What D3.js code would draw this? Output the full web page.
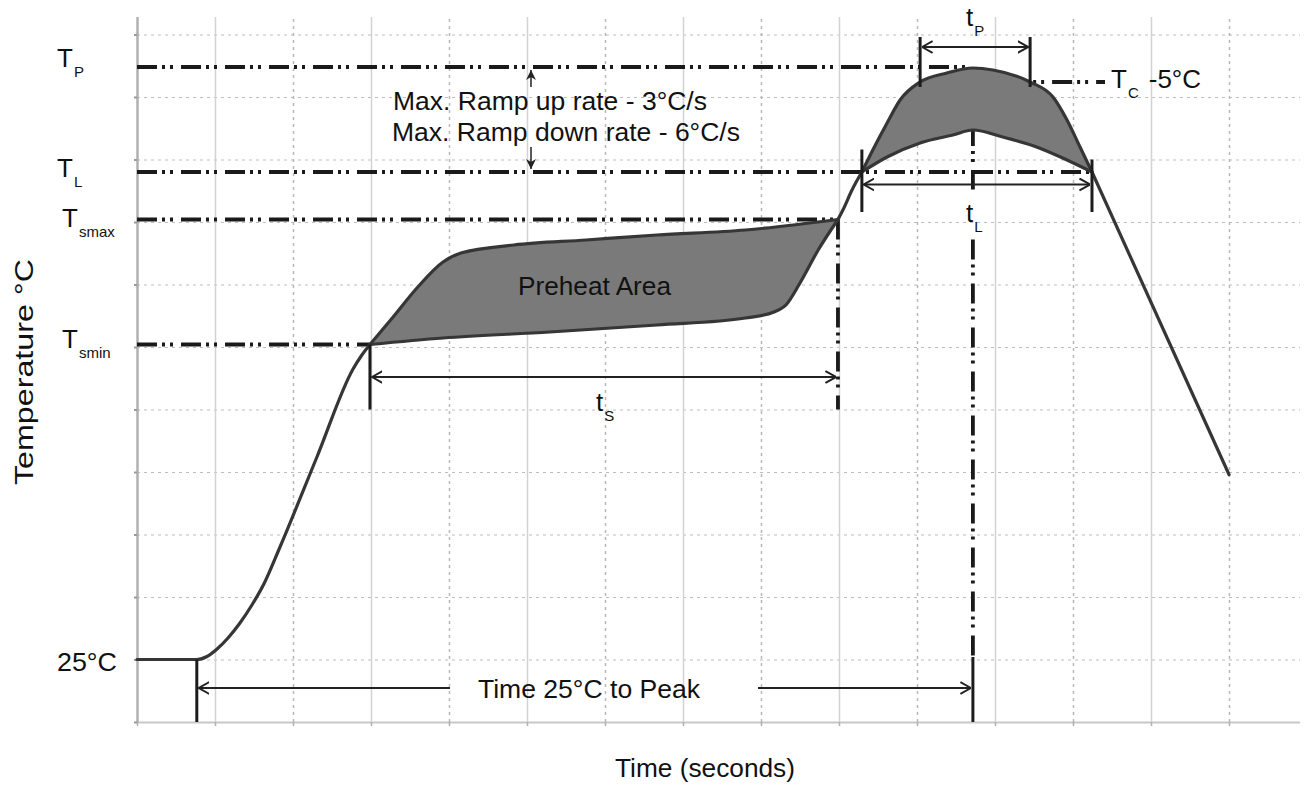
<!DOCTYPE html>
<html>
<head>
<meta charset="utf-8">
<script src="https://cdn.jsdelivr.net/npm/d3@7"></script>
<style>
body { margin: 0; background: #fff; }
text { font-family: "Liberation Sans", Arial, sans-serif; fill: #111; }
</style>
</head>
<body>
<script>
// schematic reflow profile: time in seconds, temperature in °C
var rampUp = [[0,25],[23,25],[26.9,26.2],[30.8,29.2],[35,33.6],[39.6,39.6],[44.2,46.8],[48.8,55.2],[55,70],[69.2,106],[83.1,141.2],[86.5,146.8],[89.6,151]];
var preheatUpper = [[89.6,151],[98.5,162],[108,174],[117.7,184],[124.6,187.6],[145,190.8],[172.7,192.8],[200,194.8],[234,196.8],[269.6,201]];
var preheatLower = [[89.6,151],[117.7,153.6],[158.8,156],[200,158.8],[234,161.6],[245,164],[249.6,166.8],[255,175.6],[262,188.8],[269.6,201]];
var rampToLiquid = [[269.6,201],[271.5,204.8],[275,212.8],[278.8,220]];
var peakUpper = [[278.8,220],[283,228.8],[288.5,239.6],[293.5,248.8],[301.2,256],[311.5,259.6],[321.5,261.6],[329.2,260.8],[343.5,256],[352.3,250],[357.7,240.8],[362.7,230],[367.3,220]];
var peakLower = [[278.8,220],[288.5,226],[301.2,231.6],[313.8,234.8],[321.5,236.8],[333,234],[346,230],[356,225.6],[367.3,220]];
var coolDown = [[367.3,220],[420,99]];

// temperature levels and their labels
var levelNames = ["P", "L", "smax", "smin"];
var levelTemps = [262, 220, 201, 151];
var levelEnds  = [321.5, 367.3, 269.6, 89.6];
var tc5Temp = 256;

// time marks
var t25 = 23, tsStart = 89.6, tsEnd = 269.6, tlStart = 278.8, tlEnd = 367.3;
var tpStart = 301.2, tpEnd = 343.5, tPeak = 321.5;

var gridTimes = d3.range(0, 421, 30);
var gridTemps = d3.range(0, 276, 25);

var W = 1308, H = 787;
var svg = d3.select("body").append("svg")
    .attr("width", W)
    .attr("height", H);

var x = d3.scaleLinear().domain([0, 420]).range([137, 1229]);
var y = d3.scaleLinear().domain([0, 282]).range([722, 17]);
var rightEdge = 1300;

var dashDot = "20,5,3,5,3,8";
var lineCol = "#363636";
var fillCol = "#7a7a7a";

// ---- grid ----
var hGrid = svg.append("g")
    .attr("transform", "translate(" + x(0) + ",0)")
    .call(d3.axisLeft(y).tickValues(gridTemps).tickSize(-(rightEdge - x(0))).tickFormat(""));
hGrid.select(".domain").remove();
hGrid.selectAll(".tick line")
    .attr("stroke", function(d) { return d == 0 ? "#c8c8c8" : "#bdbdbd"; })
    .attr("stroke-width", function(d) { return d == 0 ? 2 : 1.2; })
    .attr("stroke-dasharray", function(d) { return d == 0 ? null : "3,4"; });

var vGrid = svg.append("g")
    .attr("transform", "translate(0," + y(0) + ")")
    .call(d3.axisBottom(x).tickValues(gridTimes).tickSize(-(y(0) - y(282))).tickFormat(""));
vGrid.select(".domain").remove();
vGrid.selectAll(".tick line")
    .attr("stroke", function(d, i) { return i == 0 ? "#b0b0b0" : (i % 2 ? "#d2d2d2" : "#b8b8b8"); })
    .attr("stroke-width", function(d, i) { return i == 0 ? 2.5 : 1.5; })
    .attr("stroke-dasharray", function(d, i) { return (i > 0 && i % 2 == 0) ? "3,4" : null; });

// little tick marks below the time axis
var xTicks = svg.append("g")
    .attr("transform", "translate(0," + y(0) + ")")
    .call(d3.axisBottom(x).tickValues(gridTimes).tickSize(4).tickFormat(""));
xTicks.select(".domain").remove();
xTicks.selectAll(".tick line").attr("stroke", "#b0b0b0").attr("stroke-width", 1.5);

var yTicks = svg.append("g")
    .attr("transform", "translate(" + x(0) + ",0)")
    .call(d3.axisLeft(y).tickValues(gridTemps).tickSize(3).tickFormat(""));
yTicks.select(".domain").remove();
yTicks.selectAll(".tick line").attr("stroke", "#999").attr("stroke-width", 2);

// ---- arrow markers ----
var defs = svg.append("defs");
defs.append("marker")
    .attr("id", "open")
    .attr("viewBox", "0 -7 11 14")
    .attr("refX", 10.5).attr("refY", 0)
    .attr("markerUnits", "userSpaceOnUse")
    .attr("markerWidth", 11).attr("markerHeight", 14)
    .attr("orient", "auto-start-reverse")
  .append("path")
    .attr("d", "M0,-6L10.5,0L0,6")
    .attr("fill", "none")
    .attr("stroke", "#222")
    .attr("stroke-width", 2);
defs.append("marker")
    .attr("id", "solid")
    .attr("viewBox", "0 -5 10 10")
    .attr("refX", 10).attr("refY", 0)
    .attr("markerUnits", "userSpaceOnUse")
    .attr("markerWidth", 10).attr("markerHeight", 10)
    .attr("orient", "auto")
  .append("path")
    .attr("d", "M0,-5L10,0L0,5L3,0Z")
    .attr("fill", "#222");

var line = d3.line()
    .x(function(d) { return x(d[0]); })
    .y(function(d) { return y(d[1]); })
    .curve(d3.curveMonotoneX);

// ---- level lines (dash dot dot) ----
var g = svg.append("g");
function ddLine(x1, y1, x2, y2) {
    g.append("line")
        .attr("x1", x1).attr("x2", x2)
        .attr("y1", y1).attr("y2", y2)
        .attr("stroke", "#1a1a1a").attr("stroke-width", 3.8)
        .attr("stroke-dasharray", dashDot);
}
levelTemps.forEach(function(t, i) {
    ddLine(x(0), y(t), x(levelEnds[i]), y(t));
});
ddLine(x(tpStart), y(tc5Temp), 1105, y(tc5Temp));

// vertical dash dot at peak (broken for the t_L label) and at end of soak
ddLine(x(tPeak), y(tc5Temp), x(tPeak), y(213));
ddLine(x(tPeak), y(193), x(tPeak), y(25));
ddLine(x(tsEnd), y(201), x(tsEnd), y(125));

// ---- profile ----
function band(upper, lower) {
    var rev = lower.slice().reverse();
    return line(upper) + line(rev).replace(/^M/, "L") + "Z";
}
svg.append("path").attr("d", band(preheatUpper, preheatLower))
    .attr("fill", fillCol).attr("stroke", "none");
svg.append("path").attr("d", band(peakUpper, peakLower))
    .attr("fill", fillCol).attr("stroke", "none");

[rampUp, preheatUpper, preheatLower, rampToLiquid, peakUpper, peakLower, coolDown].forEach(function(pts) {
    svg.append("path")
        .attr("d", line(pts))
        .attr("fill", "none")
        .attr("stroke", lineCol)
        .attr("stroke-width", 3.2)
        .attr("stroke-linejoin", "round")
        .attr("stroke-linecap", "round");
});

// ---- brackets and dimension arrows ----
function vbar(t, y1, y2) {
    svg.append("line")
        .attr("x1", x(t)).attr("x2", x(t))
        .attr("y1", y1).attr("y2", y2)
        .attr("stroke", "#1c1c1c").attr("stroke-width", 3);
}
function dim(t1, t2, yy) {
    svg.append("line")
        .attr("x1", x(t1) + 2).attr("x2", x(t2) - 2)
        .attr("y1", yy).attr("y2", yy)
        .attr("stroke", "#222").attr("stroke-width", 2)
        .attr("marker-start", "url(#open)")
        .attr("marker-end", "url(#open)");
}

vbar(tsStart, y(151), y(125));
dim(tsStart, tsEnd, y(138));

vbar(tlStart, y(229), y(204));
vbar(tlEnd, y(225), y(204));
dim(tlStart, tlEnd, y(215));

vbar(tpStart, y(274), y(254));
vbar(tpEnd, y(274), y(254));
dim(tpStart, tpEnd, y(270));

vbar(t25, y(25), y(0));
vbar(tPeak, y(26), y(0));
svg.append("line")
    .attr("x1", x(t25) + 2).attr("x2", 450)
    .attr("y1", y(13.6)).attr("y2", y(13.6))
    .attr("stroke", "#222").attr("stroke-width", 2)
    .attr("marker-start", "url(#open)");
svg.append("line")
    .attr("x1", 758).attr("x2", x(tPeak) - 2)
    .attr("y1", y(13.6)).attr("y2", y(13.6))
    .attr("stroke", "#222").attr("stroke-width", 2)
    .attr("marker-end", "url(#open)");

// ramp rate arrows
svg.append("line")
    .attr("x1", 531).attr("x2", 531)
    .attr("y1", y(254)).attr("y2", y(262) + 3)
    .attr("stroke", "#222").attr("stroke-width", 1.5)
    .attr("marker-end", "url(#solid)");
svg.append("line")
    .attr("x1", 531).attr("x2", 531)
    .attr("y1", y(230)).attr("y2", y(220) - 3)
    .attr("stroke", "#222").attr("stroke-width", 1.5)
    .attr("marker-end", "url(#solid)");

// ---- text ----
function subLabel(px, py, main, sub, size, subSize, tail) {
    var t = svg.append("text").attr("x", px).attr("y", py).style("font-size", size + "px");
    t.append("tspan").text(main);
    t.append("tspan").attr("dy", subSize * 0.65).attr("dx", 1).style("font-size", subSize + "px").text(sub);
    if (tail) t.append("tspan").attr("dy", -subSize * 0.65).attr("dx", 10).text(tail);
    return t;
}
function label(px, py, s, len, anchor) {
    return svg.append("text")
        .attr("x", px).attr("y", py)
        .attr("text-anchor", anchor || "start")
        .attr("textLength", len)
        .attr("lengthAdjust", "spacingAndGlyphs")
        .style("font-size", "25px")
        .text(s);
}

var levelLabelY = [67, 177, 227, 348];
var levelLabelX = [57, 57, 62, 62];
levelNames.forEach(function(n, i) {
    subLabel(levelLabelX[i], levelLabelY[i], "T", n, 26, 15);
});
label(57, 671, "25°C", 60);

subLabel(1111, 88, "T", "C", 26, 15, "-5°C");
subLabel(596, 411, "t", "S", 26, 15);
subLabel(966, 222, "t", "L", 26, 15);
subLabel(966, 26, "t", "P", 26, 15);

label(393, 110, "Max. Ramp up rate - 3°C/s", 314);
label(392, 141, "Max. Ramp down rate - 6°C/s", 348);
label(518, 295, "Preheat Area", 153);
label(478, 698, "Time 25°C to Peak", 222);
label(615, 777, "Time (seconds)", 180);

svg.append("text")
    .attr("transform", "translate(33,372) rotate(-90)")
    .attr("text-anchor", "middle")
    .attr("textLength", 226)
    .attr("lengthAdjust", "spacingAndGlyphs")
    .style("font-size", "26px")
    .text("Temperature °C");
</script>
</body>
</html>
